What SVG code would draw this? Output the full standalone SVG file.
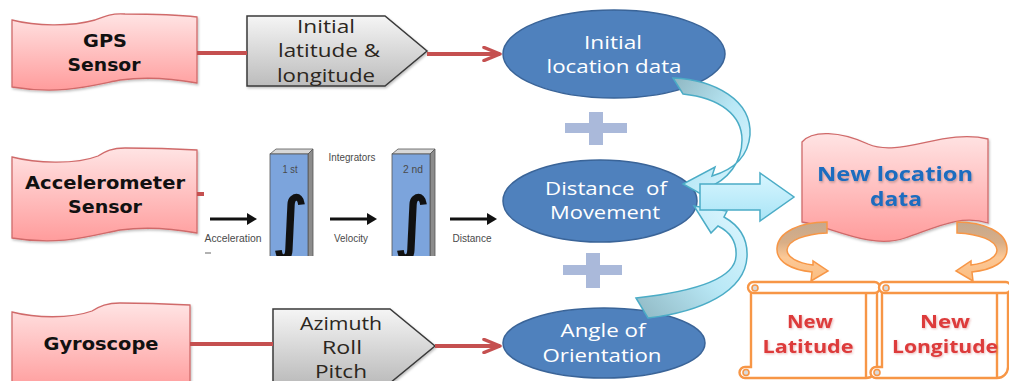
<svg xmlns="http://www.w3.org/2000/svg" width="1009" height="381" viewBox="0 0 1009 381">
  <style>
    .flag { fill: url(#pinkFill); stroke: #d06a6a; stroke-width: 1.3; }
    .pent { fill: url(#greyFill); stroke: #3a3a3a; stroke-width: 1.5; }
    .ell { fill: #4f81bd; stroke: #3a6498; stroke-width: 1.5; }
    .plus { fill: #aab9da; }
    .scroll { fill: #ffffff; stroke: #f79646; stroke-width: 2.4; }
    .curl { fill: #d9d9d9; stroke: #f79646; stroke-width: 1.6; }
    .red { stroke: #c55050; stroke-width: 4; fill: none; }
    .blk { stroke: #111; stroke-width: 3; fill: none; }
    .sens { font-family: "DejaVu Sans", Verdana, sans-serif; font-weight: bold; font-size: 17.5px; fill: #111; text-anchor: middle; }
    .lbl { font-family: "Open Sans", "Liberation Sans", sans-serif; font-size: 17.5px; fill: #2b2620; text-anchor: middle; }
    .wht { font-family: "Open Sans", "Liberation Sans", sans-serif; font-size: 17.5px; fill: #ffffff; text-anchor: middle; white-space: pre; }
    .blue { font-family: "Open Sans", "Liberation Sans", sans-serif; font-weight: bold; font-size: 19px; fill: #1b6cbf; text-anchor: middle; }
    .rtxt { font-family: "Open Sans", "Liberation Sans", sans-serif; font-weight: bold; font-size: 18.5px; fill: #dd3b3b; text-anchor: middle; }
    .tiny { font-family: "Liberation Sans", Arial, sans-serif; font-size: 11px; fill: #4a4a4a; text-anchor: middle; }
    .integ { font-family: "DejaVu Sans", sans-serif; font-size: 68px; fill: #111; stroke: #111; stroke-width: 1.8; text-anchor: middle; }
    .cyan { fill: url(#cyanBand); stroke: #4bacc6; stroke-width: 1.5; }
    .orng { fill: url(#orangeBand); stroke: #f79646; stroke-width: 1.5; }
  </style>
  <defs>
    <linearGradient id="pinkFill" x1="0" y1="0" x2="0" y2="1">
      <stop offset="0" stop-color="#ffe4e4"/>
      <stop offset="1" stop-color="#ff9c9c"/>
    </linearGradient>
    <linearGradient id="greyFill" x1="0" y1="0" x2="0" y2="1">
      <stop offset="0" stop-color="#f5f5f5"/>
      <stop offset="1" stop-color="#bcbcbc"/>
    </linearGradient>
    <linearGradient id="cyanBand" x1="0" y1="0" x2="1" y2="1">
      <stop offset="0" stop-color="#8fb7c2"/>
      <stop offset="0.5" stop-color="#b9e8f6"/>
      <stop offset="1" stop-color="#dff7ff"/>
    </linearGradient>
    <linearGradient id="cyanBand2" x1="0" y1="1" x2="1" y2="0">
      <stop offset="0" stop-color="#8fb7c2"/>
      <stop offset="0.5" stop-color="#b9e8f6"/>
      <stop offset="1" stop-color="#dff7ff"/>
    </linearGradient>
    <linearGradient id="cyanBlock" x1="0" y1="0" x2="0" y2="1">
      <stop offset="0" stop-color="#d8f6ff"/>
      <stop offset="1" stop-color="#a9e4f6"/>
    </linearGradient>
    <linearGradient id="orangeBand" x1="0" y1="0" x2="0" y2="1">
      <stop offset="0" stop-color="#c4a88e"/>
      <stop offset="0.35" stop-color="#d9ae86"/>
      <stop offset="0.6" stop-color="#fcc896"/>
      <stop offset="1" stop-color="#fbbd80"/>
    </linearGradient>
    <filter id="soft" x="-10%" y="-20%" width="120%" height="140%">
      <feDropShadow dx="1" dy="1.5" stdDeviation="1" flood-color="#000" flood-opacity="0.25"/>
    </filter>
    <filter id="glow" x="-10%" y="-20%" width="120%" height="140%">
      <feDropShadow dx="1" dy="1" stdDeviation="1" flood-color="#c03030" flood-opacity="0.35"/>
    </filter>
    <marker id="redHead" viewBox="0 0 20 16" refX="18" refY="8" markerWidth="20" markerHeight="16" markerUnits="userSpaceOnUse" orient="auto">
      <path d="M2,1.5 L18,8 L2,14.5" fill="none" stroke="#c55050" stroke-width="3.5" stroke-linecap="round" stroke-linejoin="round"/>
    </marker>
    <marker id="blackHead" viewBox="0 0 10 12" refX="1" refY="6" markerWidth="10" markerHeight="12" markerUnits="userSpaceOnUse" orient="auto">
      <path d="M0,0 L10,6 L0,12 Z" fill="#111"/>
    </marker>
    <clipPath id="integClip">
      <rect x="200" y="140" width="300" height="116"/>
    </clipPath>
  </defs>

  <!-- sensors -->
  <g id="gps-sensor">
    <path class="flag" filter="url(#soft)" d="M12,20 C35,26 70,27 95,20 C105,16 112,13 125,14 C150,14 180,15 197,17 L197,83 C175,79 150,76 120,80 C90,86 60,95 12,87 Z"/>
    <text class="sens" x="105" y="47" textLength="44" lengthAdjust="spacingAndGlyphs">GPS</text>
    <text class="sens" x="104" y="71" textLength="73" lengthAdjust="spacingAndGlyphs">Sensor</text>
  </g>
  <g id="accelerometer-sensor">
    <path class="flag" filter="url(#soft)" d="M12,157 C35,163 75,165 98,156 C106,151 112,148 125,148 C150,148 180,149 197,150 L197,233 C175,229 150,226 120,230 C90,236 60,246 12,238 Z"/>
    <text class="sens" x="105" y="189" textLength="160" lengthAdjust="spacingAndGlyphs">Accelerometer</text>
    <text class="sens" x="105" y="213" textLength="74" lengthAdjust="spacingAndGlyphs">Sensor</text>
  </g>
  <g id="gyroscope">
    <path class="flag" filter="url(#soft)" d="M12,312 C35,318 70,319 92,311 C100,306 107,303 120,303 C145,303 170,304 190,305 L190,390 L12,390 Z"/>
    <text class="sens" x="101" y="350" textLength="115" lengthAdjust="spacingAndGlyphs">Gyroscope</text>
  </g>

  <!-- raw readings -->
  <g id="initial-lat-long">
    <path class="pent" filter="url(#soft)" d="M247,16 H385 L427,51 L385,86 H247 Z"/>
    <text class="lbl" x="326" y="33" textLength="58" lengthAdjust="spacingAndGlyphs">Initial</text>
    <text class="lbl" x="329" y="57" textLength="102" lengthAdjust="spacingAndGlyphs">latitude &amp;</text>
    <text class="lbl" x="326" y="82" textLength="98" lengthAdjust="spacingAndGlyphs">longitude</text>
  </g>
  <g id="azimuth-roll-pitch">
    <path class="pent" filter="url(#soft)" d="M273,309 H390 L435,346 L390,383 H273 Z"/>
    <text class="lbl" x="341" y="330" textLength="82" lengthAdjust="spacingAndGlyphs">Azimuth</text>
    <text class="lbl" x="342" y="354" textLength="40" lengthAdjust="spacingAndGlyphs">Roll</text>
    <text class="lbl" x="341" y="378" textLength="52" lengthAdjust="spacingAndGlyphs">Pitch</text>
  </g>

  <!-- double integration of acceleration -->
  <g id="integrators" clip-path="url(#integClip)">
    <text class="tiny" x="352" y="161" textLength="47" lengthAdjust="spacingAndGlyphs">Integrators</text>
    <g id="integrator-1">
      <path d="M270,154 L276,149 L313,149 L308,154 Z" fill="#d8d8d8" stroke="#555" stroke-width="0.8"/>
      <path d="M308,154 L313,149 L313,260 L308,260 Z" fill="#8c8c8c" stroke="#555" stroke-width="0.8"/>
      <rect x="270" y="154" width="38" height="106" fill="#7ca4dc" stroke="#555" stroke-width="0.8"/>
      <text class="tiny" x="290" y="173" font-size="12" textLength="15" lengthAdjust="spacingAndGlyphs">1 st</text>
      <text class="integ" x="290" y="246">∫</text>
    </g>
    <g id="integrator-2">
      <path d="M392,154 L398,149 L435,149 L430,154 Z" fill="#d8d8d8" stroke="#555" stroke-width="0.8"/>
      <path d="M430,154 L435,149 L435,260 L430,260 Z" fill="#8c8c8c" stroke="#555" stroke-width="0.8"/>
      <rect x="392" y="154" width="38" height="106" fill="#7ca4dc" stroke="#555" stroke-width="0.8"/>
      <text class="tiny" x="413" y="173" font-size="12" textLength="20" lengthAdjust="spacingAndGlyphs">2 nd</text>
      <text class="integ" x="412" y="246">∫</text>
    </g>
    <g id="integrator-arrows">
      <line class="blk" x1="210" y1="219" x2="248" y2="219" marker-end="url(#blackHead)"/>
      <line class="blk" x1="330" y1="219" x2="368" y2="219" marker-end="url(#blackHead)"/>
      <line class="blk" x1="450" y1="219" x2="488" y2="219" marker-end="url(#blackHead)"/>
    </g>
    <text class="tiny" x="233" y="242" textLength="57" lengthAdjust="spacingAndGlyphs">Acceleration</text>
    <text class="tiny" x="351" y="242" textLength="34" lengthAdjust="spacingAndGlyphs">Velocity</text>
    <text class="tiny" x="472" y="242" textLength="39" lengthAdjust="spacingAndGlyphs">Distance</text>
    <line x1="205" y1="253" x2="211" y2="253" stroke="#999" stroke-width="1.5"/>
  </g>

  <!-- derived quantities -->
  <g id="initial-location">
    <ellipse class="ell" cx="614" cy="54" rx="111" ry="44"/>
    <text class="wht" x="613" y="49" textLength="58" lengthAdjust="spacingAndGlyphs">Initial</text>
    <text class="wht" x="614" y="73" textLength="135" lengthAdjust="spacingAndGlyphs">location data</text>
  </g>
  <g id="plus-1">
    <rect class="plus" x="565" y="123" width="62" height="10"/>
    <rect class="plus" x="589" y="112" width="14" height="33"/>
  </g>
  <g id="distance-of-movement">
    <ellipse class="ell" cx="600" cy="201" rx="97" ry="41"/>
    <text class="wht" x="606" y="195" textLength="122" lengthAdjust="spacingAndGlyphs">Distance  of</text>
    <text class="wht" x="605" y="219" textLength="110" lengthAdjust="spacingAndGlyphs">Movement</text>
  </g>
  <g id="plus-2">
    <rect class="plus" x="563" y="265" width="59" height="10"/>
    <rect class="plus" x="586" y="253" width="14" height="35"/>
  </g>
  <g id="angle-of-orientation">
    <ellipse class="ell" cx="604" cy="343" rx="101" ry="35"/>
    <text class="wht" x="603" y="337" textLength="85" lengthAdjust="spacingAndGlyphs">Angle of</text>
    <text class="wht" x="602" y="362" textLength="119" lengthAdjust="spacingAndGlyphs">Orientation</text>
  </g>

  <!-- result -->
  <g id="new-location">
    <path class="flag" filter="url(#soft)" d="M802,142 C812,130 840,131 868,144 C900,158 945,128 988,139 L988,223 C960,214 935,228 905,238 C870,250 830,226 802,222 Z"/>
    <text class="blue" filter="url(#soft)" x="895" y="181" textLength="156" lengthAdjust="spacingAndGlyphs">New location</text>
    <text class="blue" filter="url(#soft)" x="896" y="206" textLength="52" lengthAdjust="spacingAndGlyphs">data</text>
  </g>
  <g id="new-latitude">
    <path class="scroll" d="M751,290 V367 H745 A5.5,5.5 0 0 0 745,378 H866 A11,11 0 0 0 877,367 V290 Z"/>
    <line x1="866" y1="292" x2="866" y2="378" stroke="#f79646" stroke-width="2.4"/>
    <rect class="scroll" x="748" y="282" width="132" height="11" rx="5.5"/>
    <circle class="curl" cx="755" cy="288" r="3"/>
    <circle class="curl" cx="746" cy="372.5" r="3"/>
    <text class="rtxt" filter="url(#glow)" x="810" y="328" textLength="46" lengthAdjust="spacingAndGlyphs">New</text>
    <text class="rtxt" filter="url(#glow)" x="808" y="353" textLength="91" lengthAdjust="spacingAndGlyphs">Latitude</text>
  </g>
  <g id="new-longitude">
    <path class="scroll" d="M882,290 V367 H876 A5.5,5.5 0 0 0 876,378 H997 A11,11 0 0 0 1008,367 V290 Z"/>
    <line x1="997" y1="292" x2="997" y2="378" stroke="#f79646" stroke-width="2.4"/>
    <rect class="scroll" x="879" y="282" width="132" height="11" rx="5.5"/>
    <circle class="curl" cx="886" cy="288" r="3"/>
    <circle class="curl" cx="877" cy="372.5" r="3"/>
    <text class="rtxt" filter="url(#glow)" x="945" y="328" textLength="50" lengthAdjust="spacingAndGlyphs">New</text>
    <text class="rtxt" filter="url(#glow)" x="945" y="353" textLength="106" lengthAdjust="spacingAndGlyphs">Longitude</text>
  </g>

  <!-- connectors -->
  <g id="connectors">
    <line class="red" x1="197" y1="53" x2="247" y2="53"/>
    <line class="red" x1="427" y1="54" x2="500" y2="54" marker-end="url(#redHead)"/>
    <line class="red" x1="197" y1="194" x2="204" y2="194"/>
    <line class="red" x1="190" y1="344" x2="273" y2="344"/>
    <line class="red" x1="435" y1="346" x2="500" y2="346" marker-end="url(#redHead)"/>

    <path class="cyan" d="M673,78 C715,80 752,100 750,135 C748,158 732,170 712,176 L715,167 L683,184 L708,198 L707,188 C728,180 742,162 742,140 C742,115 720,98 683,94 Z"/>
    <path class="cyan" style="fill:url(#cyanBand2)" d="M636,298 C690,292 735,280 736,256 C737,242 730,232 718,226 L711,233 L694,206 L727,211 L724,217 C740,226 748,240 747,257 C745,292 700,312 648,318 Z"/>
    <path class="cyan" style="fill:url(#cyanBlock)" d="M700,184 H760 V173 L794,197 L760,221 V210 H700 Z"/>

    <path class="orng" d="M827,222 C800,222 778,232 777,248 C776,262 792,270 812,272 L811,281 L828,271 L813,261 L813,265 C797,263 787,257 787,250 C788,240 805,234 827,233 Z"/>
    <path class="orng" transform="translate(1784,0) scale(-1,1)" d="M827,222 C800,222 778,232 777,248 C776,262 792,270 812,272 L811,281 L828,271 L813,261 L813,265 C797,263 787,257 787,250 C788,240 805,234 827,233 Z"/>
  </g>
</svg>
